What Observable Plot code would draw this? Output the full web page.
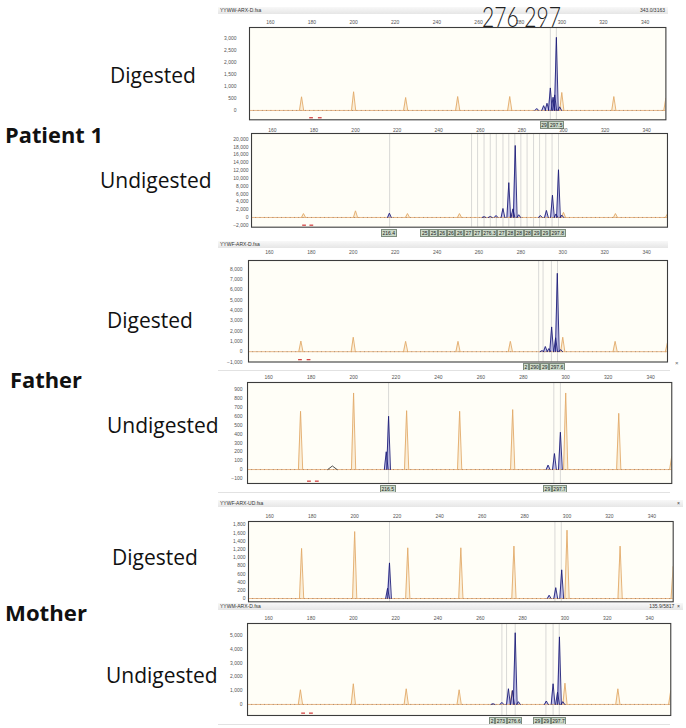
<!DOCTYPE html>
<html><head><meta charset="utf-8">
<script src="https://cdn.jsdelivr.net/npm/d3@7"></script>
<script src="https://cdn.jsdelivr.net/npm/@observablehq/plot@0.6"></script>
<style>
body{margin:0;background:#fff;}
#root{position:relative;width:686px;height:728px;overflow:hidden;font-family:"Open Sans","Noto Sans",sans-serif;}
.lbl{position:absolute;white-space:nowrap;line-height:1;color:#111;}
.hdr{position:absolute;height:7px;background:linear-gradient(#f8f8f8,#e6e6e6);font:5px "Liberation Sans",sans-serif;color:#333;line-height:7px;}
.box{position:absolute;font:5px "Liberation Sans",sans-serif;line-height:6px;height:6px;padding:0 0.6px;background:#cbd9c9;border:0.5px solid #7d8c7d;color:#222;white-space:nowrap;box-sizing:content-box;}
.sep{position:absolute;height:0;border-top:1px solid #e2e2e2;}
svg{position:absolute;}
</style></head><body><div id="root"></div><script>
// ---------- data ----------
const sizeTicks = [160,180,200,220,240,260,280,300,320,340];
const ladderSizes = [175,200,225,250,275,300,325,350];

// Patient 1, digested
const p1Blue = [[288,80],[291.3,200],[292.9,300],[294.5,940],[295.8,550],[296.6,650],[297.4,3050],[299,150]];
const p1Orange = [570,780,540,580,580,750,580,520];
const p1Bins = [294.5,297.4];
const p1BinLabels = ["29","297.5"];
const p1Red = [179.8,184];
const p1YTicks = [0,500,1000,1500,2000,2500,3000];

// Patient 1, undigested
const p2Blue = [[216.3,1100],[261.8,200],[264.8,250],[267.6,500],[270.9,2300],[273.7,8900],[275.7,2200],[276.8,18400],[278.5,700],[288.9,500],[291.8,1800],[294.7,5700],[296.4,900],[297.6,12200],[299.2,600]];
const p2Orange = [1000,1700,1000,1000,1000,1300,1000,900];
const p2Bins = [216.4,255.8,258.7,261.8,264.8,267.7,270.9,273.7,276.6,279.5,282.5,285.6,288.5,291.5,294.5,297.6];
const p2BinLabels = ["216.4","25","25","26","26","26","27","27","276.3","27","28","28","28","29","29","297.8"];
const p2Red = [175.5,179];
const p2YTicks = [-2000,0,2000,4000,6000,8000,10000,12000,14000,16000,18000,20000];

// Father, digested
const p3Blue = [[290.1,100],[291.7,500],[293.4,300],[294.7,2400],[296.6,1350],[297.4,7600],[299,200]];
const p3Orange = [1030,1400,1000,1000,1000,1400,1000,900];
const p3Bins = [288.5,290.6,294.6,297.5];
const p3BinLabels = ["2","290","29","297.6"];
const p3Red = [174.8,178.9];
const p3YTicks = [-1000,0,1000,2000,3000,4000,5000,6000,7000,8000];

// Father, undigested
const p4Blue = [[215.4,200],[216.5,600],[291.7,50],[294.7,180],[297.5,420]];
const p4Black = [[190,40]];
const p4Orange = [656,862,663,656,675,862,633,150];
const p4Bins = [216.5,294.4,297.5];
const p4BinLabels = ["216.5","29","297.7"];
const p4Red = [179.2,182.9];
const p4YTicks = [-100,0,100,200,300,400,500,600,700,800,900];

// Mother, digested
const p5Blue = [[215.5,250],[216.4,870],[291.6,80],[294.7,265],[297.5,700]];
const p5Orange = [1223,1634,1238,1238,1280,1668,1280,785];
const p5Bins = [216.4,294.3,297.3];
const p5BinLabels = [];
const p5Red = [];
const p5YTicks = [0,200,400,600,800,1000,1200,1400,1600,1800];

// Mother, undigested
const p6Blue = [[266,50],[270.2,150],[273.3,1140],[275.2,1010],[276.5,5200],[278,200],[291.2,250],[294.4,1500],[296.5,890],[297.4,4900],[299,200]];
const p6Orange = [1065,1500,1137,1065,1000,1543,1137,1000];
const p6Bins = [270.2,272.4,276.5,291,294.4,297.3];
const p6BinLabels = ["2","273","276.6","29","29","297.7"];
const p6Red = [176.5,180.2];
const p6YTicks = [0,1000,2000,3000,4000,5000];

// ---------- layout ----------
const panels = [
  {frame:[249.3,26.7,665.7,119], y:[-390,3460], yTicks:p1YTicks, pad:13, xpad:3, blue:p1Blue, orange:p1Orange, bins:p1Bins, labels:p1BinLabels, red:p1Red, redY:-304},
  {frame:[250.7,133.3,666.7,227], y:[-2480,21460], yTicks:p2YTicks, pad:3, xpad:1.2, blue:p2Blue, orange:p2Orange, bins:p2Bins, labels:p2BinLabels, red:p2Red, redY:-1970},
  {frame:[248,260,667,361.5], y:[-1000,8840], yTicks:p3YTicks, pad:6, xpad:7, blue:p3Blue, orange:p3Orange, bins:p3Bins, labels:p3BinLabels, red:p3Red, redY:-771},
  {frame:[246.7,382,671,483], y:[-157,980], yTicks:p4YTicks, pad:5, xpad:3, blue:p4Blue, black:p4Black, orange:p4Orange, bins:p4Bins, labels:p4BinLabels, red:p4Red, redY:-131},
  {frame:[248,520.7,672.7,601], y:[-80,1880], yTicks:p5YTicks, pad:3, xpad:3.4, blue:p5Blue, orange:p5Orange, bins:p5Bins, labels:p5BinLabels, red:p5Red, redY:-60},
  {frame:[246.7,623,670,715], y:[-800,5870], yTicks:p6YTicks, pad:5, xpad:3.3, blue:p6Blue, orange:p6Orange, bins:p6Bins, labels:p6BinLabels, red:p6Red, redY:-630}
];

const root = document.getElementById("root");
function peakRows(peaks, w) {
  return peaks.flatMap(([s,h],i)=>[{x:s-w,y:0,id:i},{x:s,y:h,id:i},{x:s+w,y:0,id:i}]);
}

panels.forEach(p => {
  const [l,t,r,b] = p.frame;
  const mL=45, mT=16, mR=2, mB=2;
  const width = (r-l)+mL+mR, height=(b-t)+mT+mB;
  const blueRows = peakRows(p.blue, 0.9);
  const orangeRows = peakRows(ladderSizes.map((s,i)=>[s,p.orange[i]]), 1.0);
  const blackRows = peakRows(p.black || [], 2.2);
  const redRows = p.red.map(x=>({x, y:p.redY}));
  const plot = Plot.plot({
    width, height, marginLeft:mL, marginTop:mT, marginRight:mR, marginBottom:mB,
    x:{domain:[150,350]}, y:{domain:p.y},
    style:{fontSize:"5px", fontFamily:"'Liberation Sans',sans-serif", color:"#555", background:"transparent", overflow:"visible"},
    marks:[
      Plot.frame({fill:"#fffef7"}),
      Plot.ruleX(p.bins, {stroke:"#c8c8c8", strokeWidth:0.7}),
      Plot.ruleY([0], {stroke:"#e3a56c", strokeWidth:0.8}),
      Plot.ruleY([0], {stroke:"#333", strokeWidth:0.7, strokeDasharray:"0.8,3.5", strokeOpacity:0.6}),
      Plot.areaY(orangeRows, {x:"x", y:"y", z:"id", fill:"#f2cc96", fillOpacity:0.3, clip:true}),
      Plot.line(orangeRows, {x:"x", y:"y", z:"id", stroke:"#e2aa6a", strokeWidth:0.9, clip:true}),
      Plot.line(blackRows, {x:"x", y:"y", z:"id", stroke:"#222", strokeWidth:0.8, clip:true}),
      Plot.areaY(blueRows, {x:"x", y:"y", z:"id", fill:"#8f8fe6", fillOpacity:0.5, clip:true}),
      Plot.line(blueRows, {x:"x", y:"y", z:"id", stroke:"#1e1e78", strokeWidth:0.9, clip:true}),
      Plot.ruleY(redRows, {x1:d=>d.x-0.9, x2:d=>d.x+0.9, y:"y", stroke:"#d34545", strokeWidth:1.3}),
      Plot.axisX({anchor:"top", ticks:sizeTicks, tickSize:0, tickPadding:p.xpad, label:null}),
      Plot.axisY({ticks:p.yTicks, tickFormat:d3.format(","), tickSize:0, tickPadding:p.pad, label:null}),
      Plot.frame({stroke:"#3c3c3c", strokeWidth:1.1})
    ]
  });
  const sl = l-mL, st = t-mT;
  plot.style.left = sl+"px"; plot.style.top = st+"px";
  root.appendChild(plot);
  const xs = plot.scale("x");
  // label boxes: centred on their bin, pushed left so they tile without overlapping
  const boxes = p.labels.map((lab,i)=>{
    const d = document.createElement("div");
    d.className="box"; d.textContent=lab;
    d.style.top = (b+1.5)+"px"; d.style.left="0px";
    root.appendChild(d);
    const w = d.getBoundingClientRect().width;
    return {d, w, cx: sl + xs.apply(p.bins[i])};
  });
  let limit = Infinity;
  for (let i=boxes.length-1;i>=0;i--) {
    const bx = boxes[i];
    let left = bx.cx - bx.w/2;
    if (left + bx.w > limit) left = limit - bx.w;
    bx.d.style.left = left+"px";
    limit = left;
  }
});

// headers
function hdr(top, leftText, rightText, w) {
  const d = document.createElement("div");
  d.className="hdr"; d.style.left="218px"; d.style.top=top+"px"; d.style.width=(w||450)+"px";
  d.innerHTML = `<span style="position:absolute;left:2px">${leftText}</span><span style="position:absolute;right:3px">${rightText}</span>`;
  root.appendChild(d);
}
hdr(7, "YYWW-ARX-D.fsa", "343.0/3163");
hdr(241, "YYWF-ARX-D.fsa", "");
hdr(500, "YYWF-ARX-UD.fsa", "×", 465);
hdr(603, "YYWM-ARX-D.fsa", "135.9/5817 &nbsp;×", 465);

[[370],[492],[724]].forEach(([y])=>{
  const s=document.createElement("div"); s.className="sep";
  s.style.left="218px"; s.style.top=y+"px"; s.style.width="452px"; root.appendChild(s);
});
const xm=document.createElement("div"); xm.className="lbl";
xm.style.cssText+="left:675px;top:360px;font:6px 'Liberation Sans',sans-serif;color:#666"; xm.textContent="×"; root.appendChild(xm);

// left labels
const leftLabels = [
  {text:"Digested", x:110, cy:75, bold:false},
  {text:"Patient 1", x:5, cy:135, w:98, bold:true},
  {text:"Undigested", x:100, cy:180, bold:false},
  {text:"Digested", x:107, cy:320, bold:false},
  {text:"Father", x:10, cy:380, w:72, bold:true},
  {text:"Undigested", x:107, cy:425, bold:false},
  {text:"Digested", x:112, cy:557, bold:false},
  {text:"Mother", x:5, cy:612, w:82, bold:true},
  {text:"Undigested", x:106, cy:675, bold:false}
];
leftLabels.forEach(L=>{
  const d=document.createElement("div"); d.className="lbl"; d.textContent=L.text;
  d.style.left=L.x+"px";
  const fs0 = L.bold ? 20 : 21;
  d.style.fontSize=fs0+"px"; d.style.fontWeight=L.bold?"700":"400";
  root.appendChild(d);
  if (L.bold) {
    const w=d.getBoundingClientRect().width;
    d.style.fontSize=(fs0*L.w/w)+"px";
  }
  const h=d.getBoundingClientRect().height;
  d.style.top=(L.cy-h/2)+"px";
});

// big allele annotation
const big=document.createElement("div"); big.className="lbl";
big.textContent="276 297";
big.style.cssText+="left:482px;top:3px;font-family:Lato,'Open Sans',sans-serif;font-weight:300;font-size:27px;color:#222;";
root.appendChild(big);
const bw=big.getBoundingClientRect().width;
big.style.transformOrigin="0 0"; big.style.transform=`scaleX(${79/bw})`;
</script></body></html>
